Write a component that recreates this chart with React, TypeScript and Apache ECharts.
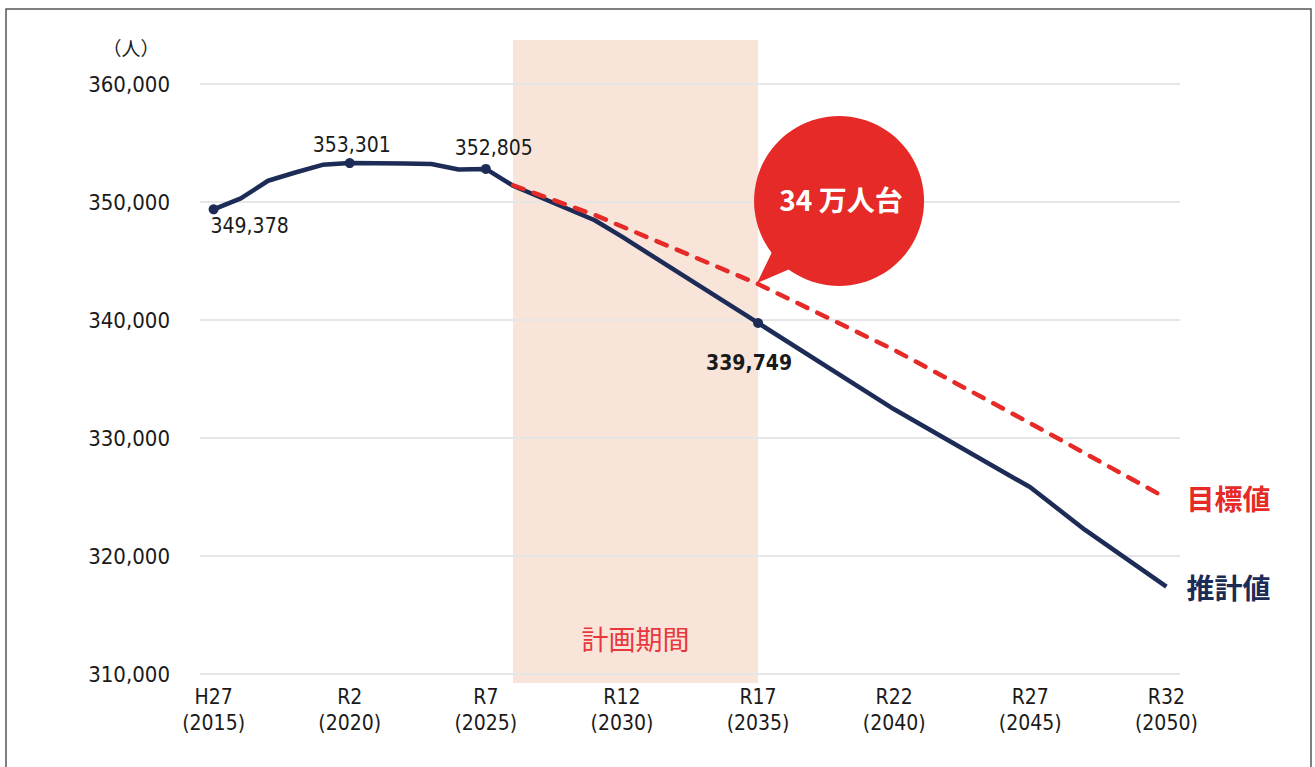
import React, { useEffect, useRef } from "react";
import * as echarts from "echarts";

const YEARS: string[] = [];
for (let y = 2015; y <= 2050; y++) YEARS.push(String(y));

const TICK_LABELS = [
  "H27\n(2015)", "R2\n(2020)", "R7\n(2025)", "R12\n(2030)",
  "R17\n(2035)", "R22\n(2040)", "R27\n(2045)", "R32\n(2050)",
];

// 推計値 (estimate) by year; null = no data point
const ESTIMATE: (number | null)[] = [
  349378, 350300, 351800, 352500, 353150, // 2015-2019
  353301, 353290, 353260, 353220, 352750, // 2020-2024
  352805, 351380, 350400, 349430, 348450, // 2025-2029
  347060, null, null, null, null,         // 2030-2034
  339749, null, null, null, null,         // 2035-2039
  332430, null, null, null, null,         // 2040-2044
  325820, null, 322230, null, null,       // 2045-2049
  317400,                                 // 2050
];

// 目標値 (target)
const TARGET: (number | null)[] = [
  null, null, null, null, null,
  null, null, null, null, null,
  null, 351420, null, null, 348900,
  null, null, null, null, null,
  343050, null, null, null, null,
  337460, null, null, null, null,
  331250, null, null, null, null,
  324900,
];

const LABELED_YEARS = ["2015", "2020", "2025", "2035"];
const PLAN_START = "2026";
const PLAN_END = "2035";

const NAVY = "#1d2b57";
const RED = "#e52a27";
const NUM_FONT = "'Liberation Sans Narrow', 'DejaVu Sans Condensed', 'Noto Sans CJK JP', sans-serif";
const CJK_FONT = "'Noto Sans CJK JP', 'Noto Sans', sans-serif";

const fmt = (v: number) => v.toLocaleString("en-US");

export default function App() {
  const ref = useRef<HTMLDivElement>(null);

  useEffect(() => {
    if (!ref.current) return;
    const chart = echarts.init(ref.current, null, { renderer: "svg" });

    const labelCfg: Record<string, any> = {
      "2015": { position: "bottom", offset: [36, -4], fontWeight: "normal" },
      "2020": { position: "top", offset: [2, 2], fontWeight: "normal" },
      "2025": { position: "top", offset: [8, 0], fontWeight: "normal" },
      "2035": { position: "bottom", offset: [-9, 20], fontWeight: "bold" },
    };

    const estData = ESTIMATE.map((v, i) => {
      const yr = YEARS[i];
      if (v != null && LABELED_YEARS.includes(yr)) {
        const c = labelCfg[yr];
        return {
          value: v,
          symbol: "circle",
          symbolSize: 10,
          label: {
            show: true,
            position: c.position,
            offset: c.offset,
            formatter: (p: any) => fmt(p.value),
            fontFamily: NUM_FONT,
            fontSize: 21,
            fontWeight: c.fontWeight,
            color: "#1a1a1a",
          },
        };
      }
      return { value: v, symbol: "none", symbolSize: 0 };
    });

    const option: any = {
      animation: false,
      backgroundColor: "#ffffff",
      grid: { left: 200, right: 135, top: 84, bottom: 93 },
      xAxis: {
        type: "category",
        data: YEARS,
        boundaryGap: true,
        axisLine: { show: false },
        axisTick: { show: false },
        axisLabel: {
          interval: 4,
          margin: 10,
          fontFamily: NUM_FONT,
          fontSize: 21,
          lineHeight: 26,
          color: "#1a1a1a",
          formatter: (v: string) => {
            const idx = (Number(v) - 2015) / 5;
            return TICK_LABELS[idx] ?? "";
          },
        },
        splitLine: { show: false },
      },
      yAxis: {
        type: "value",
        min: 310000,
        max: 360000,
        interval: 10000,
        axisLine: { show: false },
        axisTick: { show: false },
        axisLabel: {
          margin: 30,
          fontFamily: NUM_FONT,
          fontSize: 22,
          color: "#1a1a1a",
          formatter: (v: number) => fmt(v),
        },
        splitLine: { lineStyle: { color: "#e6e6e6", width: 2 } },
      },
      series: [
        {
          name: "推計値",
          type: "line",
          data: estData,
          connectNulls: true,
          showAllSymbol: true,
          lineStyle: { color: NAVY, width: 4.5 },
          itemStyle: { color: NAVY },
          z: 3,
          endLabel: {
            show: true,
            formatter: "{a}",
            distance: 20,
            color: NAVY,
            fontFamily: CJK_FONT,
            fontSize: 28,
            fontWeight: "bold",
          },
        },
        {
          name: "目標値",
          type: "line",
          data: TARGET,
          connectNulls: true,
          symbol: "none",
          lineStyle: { color: RED, width: 4.5, type: [11, 11], cap: "round" },
          itemStyle: { color: RED },
          z: 4,
          endLabel: {
            show: true,
            formatter: "{a}",
            distance: 20,
            color: RED,
            fontFamily: CJK_FONT,
            fontSize: 28,
            fontWeight: "bold",
          },
        },
      ],
    };

    chart.setOption(option);

    const x1 = chart.convertToPixel({ xAxisIndex: 0 }, PLAN_START) as number;
    const x2 = chart.convertToPixel({ xAxisIndex: 0 }, PLAN_END) as number;
    const endIdx = YEARS.indexOf(PLAN_END);
    const tip = chart.convertToPixel({ seriesIndex: 1 }, [endIdx, TARGET[endIdx] as number]) as number[];
    const cx = tip[0] + 81;
    const cy = tip[1] - 83;

    chart.setOption({
      graphic: [
        {
          type: "rect",
          z: -10,
          shape: { x: x1, y: 40, width: x2 - x1, height: 643 },
          style: { fill: "#f8e4d8" },
        },
        {
          type: "text",
          z: -5,
          style: {
            text: "計画期間",
            x: (x1 + x2) / 2,
            y: 638,
            align: "center",
            verticalAlign: "middle",
            fill: "#e8383d",
            fontFamily: CJK_FONT,
            fontSize: 27,
          },
        },
        {
          type: "rect",
          z: 100,
          shape: { x: 6, y: 9, width: 1305, height: 800 },
          style: { fill: "none", stroke: "#555555", lineWidth: 1.5 },
        },
        {
          type: "text",
          style: {
            text: "（人）",
            x: 131,
            y: 47,
            align: "center",
            verticalAlign: "middle",
            fill: "#1a1a1a",
            fontFamily: CJK_FONT,
            fontSize: 19,
          },
        },
        {
          type: "polygon",
          z: 50,
          shape: {
            points: [
              [tip[0] + 14, tip[1] - 32],
              [tip[0] - 1, tip[1] - 1],
              [tip[0] + 34, tip[1] - 16],
            ],
          },
          style: { fill: RED },
        },
        {
          type: "circle",
          z: 50,
          shape: { cx, cy, r: 85 },
          style: { fill: RED },
        },
        {
          type: "text",
          z: 51,
          style: {
            text: "34 万人台",
            x: cx + 2,
            y: cy - 2,
            align: "center",
            verticalAlign: "middle",
            fill: "#ffffff",
            fontFamily: CJK_FONT,
            fontSize: 28,
            fontWeight: "bold",
          },
        },
      ],
    });

    return () => chart.dispose();
  }, []);

  return (
    <div
      ref={ref}
      style={{ position: "fixed", left: 0, top: 0, width: 1315, height: 767 }}
    />
  );
}
